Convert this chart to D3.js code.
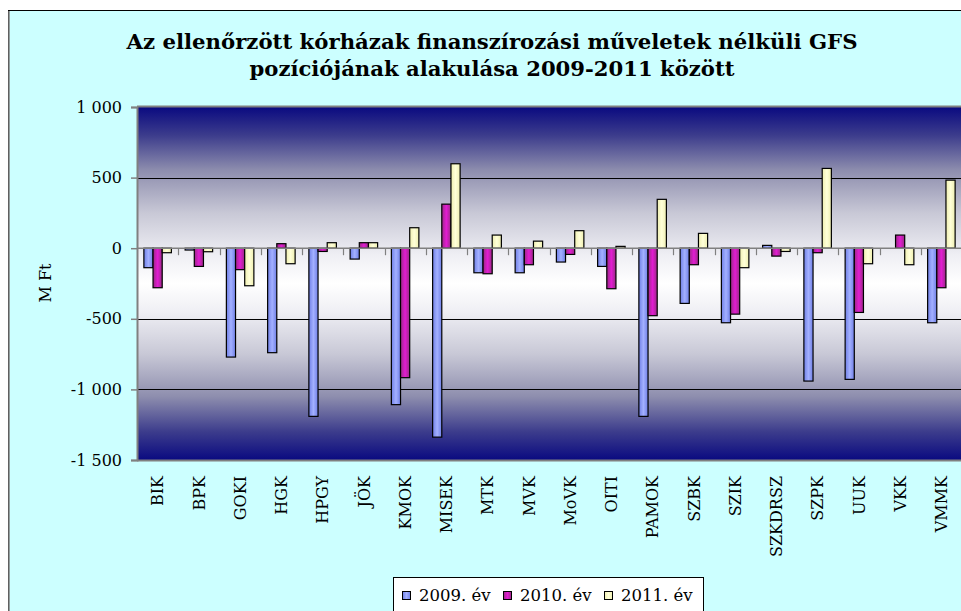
<!DOCTYPE html>
<html>
<head>
<meta charset="utf-8">
<script src="https://cdn.jsdelivr.net/npm/d3@7"></script>
<style>
  html, body { margin: 0; padding: 0; background: #ffffff; }
  svg { display: block; }
</style>
</head>
<body>
<svg id="chart" width="961" height="611"></svg>
<script>
// ---- data ----
const titleLines = [
  "Az ellenőrzött kórházak finanszírozási műveletek nélküli GFS",
  "pozíciójának alakulása 2009-2011 között"
];
const categories = ["BIK","BPK","GOKI","HGK","HPGY","JÖK","KMOK","MISEK","MTK","MVK",
                    "MoVK","OITI","PAMOK","SZBK","SZIK","SZKDRSZ","SZPK","UUK","VKK","VMMK"];
const seriesNames = ["2009. év", "2010. év", "2011. év"];
const v2009 = [-138, -13, -771, -740, -1191, -77, -1108, -1338, -174, -174,
               -98, -129, -1191, -391, -528, 20, -941, -929, 0, -528];
const v2010 = [-280, -129, -152, 32, -23, 39, -917, 312, -181, -117,
               -44, -287, -478, -117, -467, -56, -32, -455, 93, -280];
const v2011 = [-32, -25, -266, -110, 39, 39, 145, 598, 93, 50,
               124, 13, 346, 105, -138, -23, 565, -110, -117, 482];
const yTicks = [1000, 500, 0, -500, -1000, -1500];
const yLabel = "M Ft";

// ---- layout ----
const svg = d3.select("#chart");
const plot = { left: 137, right: 962, top: 107, bottom: 460 };
const serif = "'DejaVu Serif', 'Liberation Serif', serif";

const seriesData = [v2009, v2010, v2011];
const rows = categories.map((c, i) => ({ cat: c, vals: seriesData.map(s => s[i]) }));

const x = d3.scaleBand().domain(categories).range([plot.left, plot.right]).paddingInner(0).paddingOuter(0);
const groupW = x.step() * 3 / 4.5;
const x1 = d3.scaleBand().domain(d3.range(3)).range([0, groupW]).padding(0);
const y = d3.scaleLinear().domain([-1500, 1000]).range([plot.bottom, plot.top]);

const defs = svg.append("defs");
// background gradient of plot area
const bg = defs.append("linearGradient").attr("id", "bgGrad")
  .attr("x1", 0).attr("y1", 0).attr("x2", 0).attr("y2", 1);
[[0, "#0a0a80"], [0.08, "#3c3c8c"], [0.18, "#8e8eae"], [0.3, "#c8c8d6"], [0.42, "#efeff4"],
 [0.5, "#ffffff"], [0.58, "#efeff4"], [0.7, "#c8c8d6"], [0.82, "#8e8eae"], [0.92, "#3c3c8c"], [1, "#0a0a80"]]
  .forEach(([o, c]) => bg.append("stop").attr("offset", o).attr("stop-color", c));

const barColors = [
  ["#6f7fe6", "#a3b0ff", "#6f7fe6"],
  ["#9a2a86", "#e21cd2", "#9a2a86"],
  ["#eeeeb0", "#ffffd8", "#eeeeb0"]
];
barColors.forEach((cols, k) => {
  const g = defs.append("linearGradient").attr("id", "barGrad" + k)
    .attr("x1", 0).attr("y1", 0).attr("x2", 1).attr("y2", 0);
  g.append("stop").attr("offset", 0).attr("stop-color", cols[0]);
  g.append("stop").attr("offset", 0.5).attr("stop-color", cols[1]);
  g.append("stop").attr("offset", 1).attr("stop-color", cols[2]);
});

// chart area background
svg.append("rect").attr("x", 8.5).attr("y", 10.5).attr("width", 1000).attr("height", 700)
  .attr("fill", "#ccffff").attr("stroke", "#000").attr("stroke-width", 1);
svg.append("line").attr("x1", 9).attr("x2", 9).attr("y1", 11).attr("y2", 611)
  .attr("stroke", "#808080").attr("stroke-width", 1.5);

// title
const title = svg.append("g");
titleLines.forEach((t, i) => {
  title.append("text")
    .attr("x", 492).attr("y", 49 + i * 27)
    .attr("text-anchor", "middle")
    .attr("font-family", serif).attr("font-weight", "bold").attr("font-size", 20)
    .attr("textLength", i === 0 ? 731 : 485).attr("lengthAdjust", "spacingAndGlyphs")
    .attr("fill", "#000").text(t);
});

// plot area
svg.append("rect").attr("x", plot.left).attr("y", plot.top)
  .attr("width", plot.right - plot.left).attr("height", plot.bottom - plot.top)
  .attr("fill", "url(#bgGrad)");

// gridlines
svg.append("g").selectAll("line").data(yTicks.filter(t => t !== 0 && t !== 1000 && t !== -1500))
  .join("line")
  .attr("x1", plot.left).attr("x2", plot.right)
  .attr("y1", d => Math.round(y(d)) + 0.5).attr("y2", d => Math.round(y(d)) + 0.5)
  .attr("stroke", "#000").attr("stroke-width", 1);

// plot border top / bottom
svg.append("line").attr("x1", plot.left).attr("x2", plot.right)
  .attr("y1", plot.top - 0.5).attr("y2", plot.top - 0.5).attr("stroke", "#808080").attr("stroke-width", 2);
svg.append("line").attr("x1", plot.left).attr("x2", plot.right)
  .attr("y1", plot.bottom + 0.5).attr("y2", plot.bottom + 0.5).attr("stroke", "#808080").attr("stroke-width", 2);

// bars
const groups = svg.append("g").selectAll("g").data(rows).join("g")
  .attr("transform", d => `translate(${x(d.cat) + (x.step() - groupW) / 2},0)`);
groups.selectAll("rect").data(d => d.vals.map((v, k) => ({ v, k })))
  .join("rect")
  .filter(d => d.v !== 0)
  .attr("x", d => x1(d.k))
  .attr("width", x1.bandwidth())
  .attr("y", d => Math.min(y(d.v), y(0)))
  .attr("height", d => Math.abs(y(d.v) - y(0)))
  .attr("fill", d => `url(#barGrad${d.k})`)
  .attr("stroke", "#000").attr("stroke-width", 1.2);

// zero axis with category tick marks
const xAxis = d3.axisBottom(x).tickSize(0).tickFormat("");
svg.append("line").attr("x1", plot.left).attr("x2", plot.right)
  .attr("y1", y(0)).attr("y2", y(0)).attr("stroke", "#808080").attr("stroke-width", 1.5);
svg.append("g").selectAll("line").data(categories.slice(1))
  .join("line")
  .attr("x1", d => Math.round(x(d)) + 0.5).attr("x2", d => Math.round(x(d)) + 0.5)
  .attr("y1", y(0)).attr("y2", y(0) + 7)
  .attr("stroke", "#808080").attr("stroke-width", 1.2);

// category labels
svg.append("g").selectAll("text").data(categories).join("text")
  .attr("transform", d => `translate(${x(d) + x.bandwidth() / 2},476) rotate(-90)`)
  .attr("text-anchor", "end").attr("dy", "0.36em")
  .attr("font-family", serif).attr("font-size", 16).attr("fill", "#000")
  .text(d => d);

// y axis
const huLocale = d3.formatLocale({ decimal: ",", thousands: " ", grouping: [3], currency: ["", ""], minus: "-" });
const fmt = huLocale.format(",d");
const yAxis = d3.axisLeft(y).tickValues(yTicks).tickSize(6).tickPadding(9).tickFormat(fmt);
const yg = svg.append("g").attr("transform", `translate(${plot.left},0)`).call(yAxis);
yg.select(".domain").attr("stroke", "#808080").attr("stroke-width", 2);
yg.selectAll(".tick line").attr("stroke", "#808080").attr("stroke-width", 1.5);
yg.selectAll(".tick text").attr("font-family", serif).attr("font-size", 16).attr("fill", "#000");

// y label
svg.append("text").attr("transform", "translate(45,283) rotate(-90)")
  .attr("text-anchor", "middle").attr("dy", "0.36em")
  .attr("font-family", serif).attr("font-size", 16).attr("fill", "#000").text(yLabel);

// legend
const leg = svg.append("g");
leg.append("rect").attr("x", 393.5).attr("y", 577.5).attr("width", 310).attr("height", 60)
  .attr("fill", "#fff").attr("stroke", "#000").attr("stroke-width", 1);
const legX = [402, 503, 604];
seriesNames.forEach((n, k) => {
  leg.append("rect").attr("x", legX[k] + 0.5).attr("y", 591.5).attr("width", 8).attr("height", 8)
    .attr("fill", `url(#barGrad${k})`).attr("stroke", "#000").attr("stroke-width", 1);
  leg.append("text").attr("x", legX[k] + 17).attr("y", 601)
    .attr("font-family", serif).attr("font-size", 16.5).attr("fill", "#000").text(n);
});
</script>
</body>
</html>
